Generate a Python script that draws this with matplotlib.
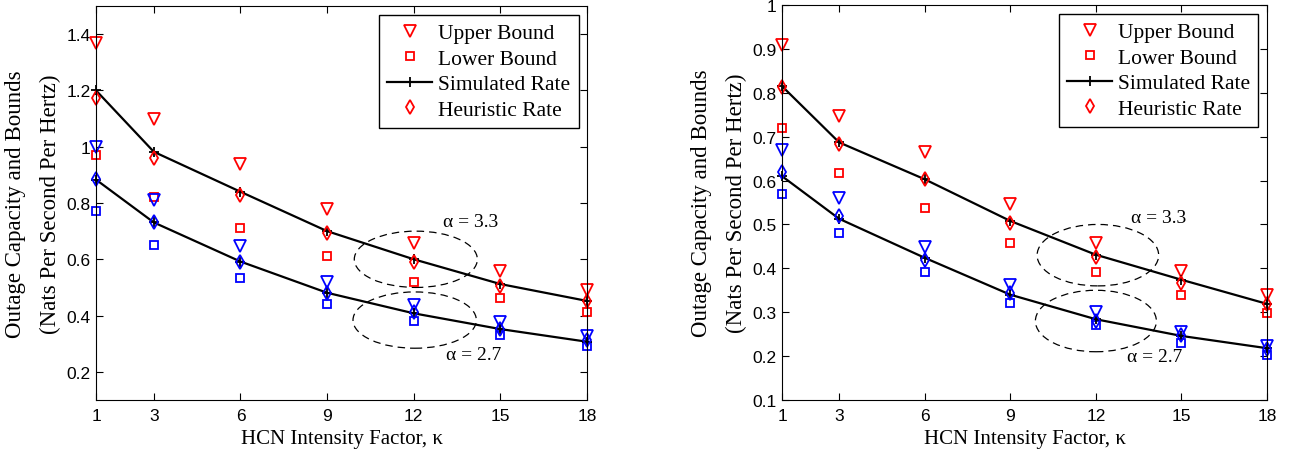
import matplotlib
matplotlib.use("Agg")
import matplotlib.pyplot as plt
from matplotlib.patches import Ellipse
from matplotlib.lines import Line2D

kappa = [1, 3, 6, 9, 12, 15, 18]

# left panel
left_upper_33 = [1.37, 1.10, 0.94, 0.78, 0.657, 0.558, 0.49]
left_lower_33 = [0.972, 0.82, 0.71, 0.612, 0.52, 0.461, 0.411]
left_sim_33 = [1.20, 0.982, 0.84, 0.70, 0.60, 0.512, 0.452]
left_heur_33 = [1.174, 0.96, 0.827, 0.695, 0.592, 0.506, 0.452]
left_upper_27 = [0.998, 0.81, 0.648, 0.52, 0.437, 0.376, 0.328]
left_lower_27 = [0.773, 0.651, 0.532, 0.441, 0.38, 0.33, 0.291]
left_sim_27 = [0.883, 0.731, 0.592, 0.481, 0.408, 0.352, 0.307]
left_heur_27 = [0.885, 0.732, 0.592, 0.48, 0.414, 0.354, 0.312]

# right panel
right_upper_33 = [0.908, 0.746, 0.665, 0.546, 0.458, 0.393, 0.34]
right_lower_33 = [0.719, 0.618, 0.538, 0.458, 0.391, 0.34, 0.298]
right_sim_33 = [0.815, 0.687, 0.603, 0.508, 0.431, 0.374, 0.319]
right_heur_33 = [0.814, 0.683, 0.603, 0.504, 0.426, 0.367, 0.319]
right_upper_27 = [0.669, 0.561, 0.448, 0.361, 0.30, 0.255, 0.222]
right_lower_27 = [0.569, 0.481, 0.391, 0.321, 0.271, 0.231, 0.203]
right_sim_27 = [0.61, 0.513, 0.424, 0.34, 0.284, 0.246, 0.218]
right_heur_27 = [0.62, 0.52, 0.42, 0.344, 0.281, 0.249, 0.217]

serif = "Liberation Serif"
sans = "Liberation Sans"

TRI = dict(linestyle="none", marker="v", markersize=8, markerfacecolor="none",
           markeredgewidth=1.3)
SQ = dict(linestyle="none", marker="s", markersize=5.5, markerfacecolor="none",
          markeredgewidth=1.3)
DIA = dict(linestyle="none", marker="d", markersize=7.5, markerfacecolor="none",
           markeredgewidth=1.3)
SIM = dict(color="black", linewidth=1.6, marker="+", markersize=7,
           markeredgewidth=1.3)

fig = plt.figure(figsize=(12.89, 4.52), dpi=100)
ax1 = fig.add_axes([0.0745, 0.1128, 0.381, 0.8717])
ax2 = fig.add_axes([0.6067, 0.1128, 0.3763, 0.8739])


def draw(ax, d33, d27, ylim, yticks, ell33, ell27, txt33, txt27):
    for (up, lo, sim, heur), col in [(d33, "red"), (d27, "blue")]:
        ax.plot(kappa, up, markeredgecolor=col, clip_on=False, **TRI)
        ax.plot(kappa, lo, markeredgecolor=col, clip_on=False, **SQ)
        ax.plot(kappa, sim, clip_on=False, **SIM)
        ax.plot(kappa, heur, markeredgecolor=col, clip_on=False, **DIA)

    for (cx, cy, w, h) in (ell33, ell27):
        ax.add_patch(Ellipse((cx, cy), w, h, fill=False, linestyle=(0, (6, 4)),
                             edgecolor="black", linewidth=0.9))
    ax.text(txt33[0], txt33[1], "\u03b1 = 3.3", family=serif, fontsize=14)
    ax.text(txt27[0], txt27[1], "\u03b1 = 2.7", family=serif, fontsize=14)

    ax.set_xlim(1, 18)
    ax.set_ylim(*ylim)
    ax.set_xticks(kappa)
    ax.set_yticks(yticks)
    ax.set_yticklabels([f"{t:g}" for t in yticks])
    ax.tick_params(direction="in", top=True, right=True, length=5,
                   labelsize=12.5)
    ax.tick_params(axis="y", pad=4)
    ax.tick_params(axis="x", pad=6)
    for lab in ax.get_xticklabels() + ax.get_yticklabels():
        lab.set_family(sans)
    ax.set_xlabel("HCN Intensity Factor, \u03ba", family=serif, fontsize=15,
                  labelpad=4)
    ax.set_ylabel("Outage Capacity and Bounds\n(Nats Per Second Per Hertz)",
                  family=serif, fontsize=16.5, labelpad=4, linespacing=1.85)

    handles = [
        Line2D([], [], markeredgecolor="red", **TRI),
        Line2D([], [], markeredgecolor="red", **SQ),
        Line2D([], [], **SIM),
        Line2D([], [], markeredgecolor="red", **DIA),
    ]
    labels = ["Upper Bound", "Lower Bound", "Simulated Rate", "Heuristic Rate"]
    leg = ax.legend(handles, labels, loc="upper right", fancybox=False,
                    edgecolor="black", framealpha=1,
                    prop={"family": serif, "size": 15.5},
                    handlelength=2.1, handletextpad=0.25,
                    borderaxespad=0.4, labelspacing=0.25, borderpad=0.4)
    leg.get_frame().set_linewidth(1.0)


draw(ax1,
     (left_upper_33, left_lower_33, left_sim_33, left_heur_33),
     (left_upper_27, left_lower_27, left_sim_27, left_heur_27),
     (0.1, 1.5), [0.2, 0.4, 0.6, 0.8, 1.0, 1.2, 1.4],
     (12.07, 0.60, 4.26, 0.2), (12.03, 0.384, 4.27, 0.2),
     (13.0, 0.72), (13.1, 0.245))

draw(ax2,
     (right_upper_33, right_lower_33, right_sim_33, right_heur_33),
     (right_upper_27, right_lower_27, right_sim_27, right_heur_27),
     (0.1, 1.0), [0.1, 0.2, 0.3, 0.4, 0.5, 0.6, 0.7, 0.8, 0.9, 1.0],
     (12.07, 0.43, 4.26, 0.14), (12.0, 0.28, 4.24, 0.14),
     (13.24, 0.505), (13.1, 0.19))

fig.savefig("out.png", dpi=100)
